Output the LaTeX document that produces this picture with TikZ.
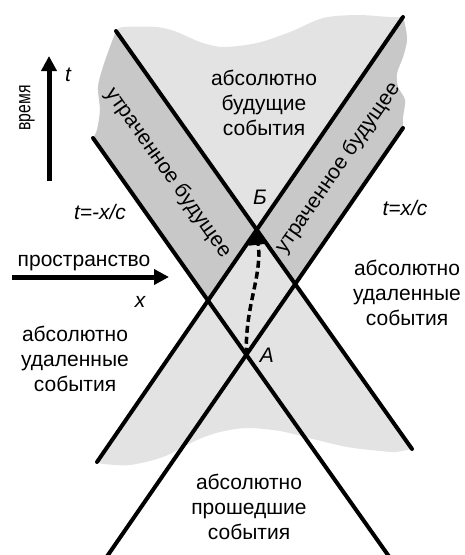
\documentclass[tikz,border=0pt]{standalone}
\usepackage{fontspec}
\usepackage{graphicx}
\setmainfont{Liberation Sans}
\usetikzlibrary{arrows.meta}
\definecolor{lightg}{RGB}{227,227,227}
\definecolor{darkg}{RGB}{200,200,200}
\begin{document}
\begin{tikzpicture}[x=1pt,y=-1pt,
  lbl/.style={inner sep=0pt,align=center,font=\fontsize{21}{25}\selectfont},
  ilbl/.style={inner sep=0pt,font=\fontsize{21}{25}\selectfont\itshape},
  coneline/.style={line width=4pt,line cap=round},
  axisarrow/.style={line width=5pt,-{Triangle[length=15pt,width=15pt]}},
  worldline/.style={line width=3.5pt,dash pattern=on 7pt off 4pt,-{Triangle[length=15pt,width=19pt]}}]
\useasboundingbox (0,0) rectangle (464,555);
% line end points
\coordinate (P1a) at (116,31);
\coordinate (P1b) at (412,449);
\coordinate (P2a) at (93,138);
\coordinate (P2b) at (389.4,557);
\coordinate (P3a) at (97,462);
\coordinate (P3b) at (403,17);
\coordinate (P4a) at (106.6,557);
\coordinate (P4b) at (403,128);
% crossings
\coordinate (B) at (intersection of P1a--P1b and P3a--P3b);
\coordinate (R) at (intersection of P1a--P1b and P4a--P4b);
\coordinate (A) at (intersection of P2a--P2b and P4a--P4b);
\coordinate (Lc) at (intersection of P2a--P2b and P3a--P3b);
% light grey cloud
\fill[lightg] (P1a)
  -- plot[smooth] coordinates {(116,31) (123,27) (157,27) (177,32) (200,42) (223,47) (257,43) (290,32) (323,18) (357,15) (390,17) (403,17)}
  -- plot[smooth] coordinates {(403,17) (405,25) (407,40) (403,57) (397,73) (398,87) (405,100) (403,117) (403,128)}
  -- (R) -- (P1b)
  -- plot[smooth] coordinates {(412,449) (395,452) (380,451) (347,447) (313,439) (280,431) (247,428) (220,432) (197,440) (163,457) (130,465) (104,464) (97,462)}
  -- (Lc) -- (P2a)
  -- plot[smooth] coordinates {(93,138) (97,130) (100,110) (98,87) (103,67) (110,47) (116,31)}
  -- cycle;
% darker bands
\fill[darkg] (P1a) -- (B) -- (Lc) -- (P2a)
  -- plot[smooth] coordinates {(93,138) (97,130) (100,110) (98,87) (103,67) (110,47) (116,31)}
  -- cycle;
\fill[darkg] (P3b) -- (B) -- (R) -- (P4b)
  -- plot[smooth] coordinates {(403,128) (403,117) (405,100) (398,87) (397,73) (403,57) (407,40) (405,25) (403,17)}
  -- cycle;
% cone lines
\draw[coneline] (P1a) -- (P1b);
\draw[coneline] (P2a) -- (P2b);
\draw[coneline] (P3a) -- (P3b);
\draw[coneline] (P4a) -- (P4b);
% world line from A to B
\draw[worldline] (A) .. controls (245,305) and (262,278) .. (B);
% axes
\coordinate (t0) at (49,181);
\coordinate (t1) at (49,56);
\coordinate (x0) at (12,277);
\coordinate (x1) at (169,277);
\draw[axisarrow] (t0) -- (t1);
\draw[axisarrow] (x0) -- (x1);
% labels
\node[lbl] (fut) at (264,103) {абсолютно\\будущие\\события};
\node[lbl] (remR) at (407,293) {абсолютно\\удаленные\\события};
\node[lbl] (remL) at (75,359) {абсолютно\\удаленные\\события};
\node[lbl] (past) at (249,507) {абсолютно\\прошедшие\\события};
\node[lbl,rotate=-54.7] (lostL) at (168,173) {утраченное будущее};
\node[lbl,rotate=55.3] (lostR) at (338,168) {утраченное будущее};
\node[ilbl] (tm) at (100,212) {t=-x/c};
\node[ilbl] (tp) at (405,208) {t=x/c};
\node[ilbl] (tlab) at (68,75) {t};
\node[ilbl] (xlab) at (140,302) {x};
\node[ilbl] (Blab) at (260,197) {Б};
\node[ilbl] (Alab) at (267,355) {А};
\node[lbl,rotate=90] (time) at (27,108) {\scalebox{0.75}[1]{время}};
\node[lbl] (space) at (84,263) {пространство};
\end{tikzpicture}
\end{document}
